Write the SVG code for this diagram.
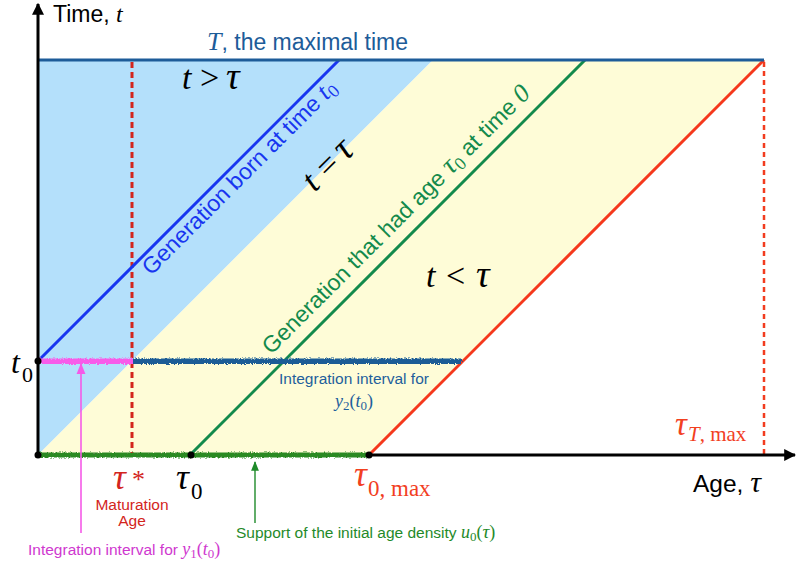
<svg xmlns="http://www.w3.org/2000/svg" width="796" height="568" viewBox="0 0 796 568">
<defs>
<style>
.sans{font-family:"Liberation Sans",Arial,Helvetica,sans-serif}
.math{font-family:"Liberation Serif","Times New Roman",serif;font-style:italic}
.rm{font-family:"Liberation Serif","Times New Roman",serif;font-style:normal}
.small{font-size:15.5px}
.big{font-size:23px}
.axis{stroke:#000;stroke-width:3;fill:none}
.dot{fill:#000}
</style>
<marker id="axhead" viewBox="0 0 10 10" refX="9" refY="5" markerWidth="4" markerHeight="4" orient="auto" markerUnits="strokeWidth">
<path d="M0,0 L10,5 L0,10 z" fill="#000"/>
</marker>
<marker id="pinkhead" viewBox="0 0 10 10" refX="9" refY="5" markerWidth="7" markerHeight="7" orient="auto" markerUnits="strokeWidth">
<path d="M0,1 L10,5 L0,9 z" fill="#f55ae8"/>
</marker>
<marker id="greenhead" viewBox="0 0 10 10" refX="9" refY="5" markerWidth="7" markerHeight="7" orient="auto" markerUnits="strokeWidth">
<path d="M0,1 L10,5 L0,9 z" fill="#1f8a2a"/>
</marker>
<filter id="rough" filterUnits="userSpaceOnUse" x="0" y="0" width="796" height="568">
<feTurbulence type="fractalNoise" baseFrequency="0.7" numOctaves="2" seed="3" result="n"/>
<feDisplacementMap in="SourceGraphic" in2="n" scale="3.5" xChannelSelector="R" yChannelSelector="G"/>
</filter>
</defs>

<g id="regions">
<polygon id="region-t-gt-tau" points="38,60 433,60 38,455" fill="#b4e0fb"/>
<polygon id="region-t-lt-tau" points="38,455 433,60 764,60 369,455" fill="#fefcd7"/>
</g>

<g id="guides">
<line id="tau-star-guide" x1="132" y1="62" x2="132" y2="455" stroke="#d3251d" stroke-width="3" stroke-dasharray="6,4"/>
<line id="tauT-guide" x1="764" y1="62" x2="764" y2="455" stroke="#f23c1f" stroke-width="2.5" stroke-dasharray="5,4"/>
</g>

<g id="characteristics">
<line id="gen-born-t0" x1="38" y1="361" x2="339" y2="60" stroke="#1836f0" stroke-width="3"/>
<line id="gen-age-tau0" x1="190" y1="455" x2="585" y2="60" stroke="#138a4c" stroke-width="3"/>
<line id="gen-tau0max" x1="369" y1="455" x2="764" y2="60" stroke="#f5381c" stroke-width="3"/>
<line id="T-line" x1="38" y1="60" x2="764" y2="60" stroke="#1d5c99" stroke-width="3"/>
</g>

<g id="intervals" filter="url(#rough)">
<rect id="y1-interval" x="39" y="358.5" width="94" height="5.5" fill="#f75ce9"/>
<rect id="y2-interval" x="133" y="358.5" width="329" height="5.5" fill="#1b5b96"/>
</g>

<g id="axes">
<line id="t-axis" class="axis" x1="38" y1="457" x2="38" y2="4" marker-end="url(#axhead)"/>
<line id="tau-axis" class="axis" x1="36" y1="455" x2="795" y2="455" marker-end="url(#axhead)"/>
</g>

<g id="support" filter="url(#rough)">
<rect id="u0-support" x="39" y="452.5" width="330" height="5" fill="#2a8a20"/>
</g>

<g id="points">
<circle class="dot" cx="38" cy="361" r="3.5"/>
<circle class="dot" cx="38" cy="455" r="3.5"/>
<circle class="dot" cx="191" cy="455" r="3.5"/>
<circle class="dot" cx="369" cy="455" r="3.5"/>
</g>

<g id="connectors">
<line id="arrow-y1" x1="81" y1="533" x2="81" y2="364" stroke="#f55ae8" stroke-width="1.6" marker-end="url(#pinkhead)"/>
<line id="arrow-u0" x1="255" y1="523" x2="255" y2="462" stroke="#1f8a2a" stroke-width="1.4" marker-end="url(#greenhead)"/>
</g>

<g id="axis-labels">
<text id="time-label" class="sans" x="53" y="22" font-size="23" fill="#000">Time, <tspan class="math" font-size="24">t</tspan></text>
<text id="age-label" class="sans" x="693" y="492" font-size="24.5" fill="#000">Age, <tspan class="math" font-size="30">τ</tspan></text>
<text id="T-label" class="sans big" x="207" y="50" fill="#1d5c99"><tspan class="math" font-size="26">T</tspan>, the maximal time</text>
</g>

<g id="relations" fill="#000">
<text class="rm" font-size="34" y="89"><tspan class="math" x="182">t</tspan><tspan x="200">&gt;</tspan><tspan class="math" font-size="38" x="226">τ</tspan></text>
<text class="rm" font-size="34" y="287"><tspan class="math" x="426">t</tspan><tspan x="446">&lt;</tspan><tspan class="math" font-size="38" x="476">τ</tspan></text>
<g transform="translate(329,166) rotate(-45)">
<text class="rm" font-size="34" y="9"><tspan class="math" x="-29">t</tspan><tspan x="-10">=</tspan><tspan class="math" font-size="38" x="15">τ</tspan></text>
</g>
</g>

<g id="generation-labels">
<g transform="translate(38,361) rotate(-45)">
<text class="sans big" x="140" y="20" fill="#1836f0">Generation born at time <tspan class="math" font-size="26">t</tspan><tspan class="rm" font-size="18" dy="4">0</tspan></text>
</g>
<g transform="translate(190,455) rotate(-45)">
<text class="sans big" x="128" y="-13" fill="#138a4c">Generation that had age <tspan class="math" font-size="28">τ</tspan><tspan class="rm" font-size="18" dy="4">0</tspan><tspan dy="-4"> at time </tspan><tspan class="math" font-size="26">0</tspan></text>
</g>
</g>

<g id="tick-labels">
<text id="t0-label" class="math" x="11" y="373" font-size="32" fill="#000">t<tspan class="rm" font-size="22" x="22" y="382">0</tspan></text>
<text id="tau-star" class="math" x="113" y="489" font-size="36" fill="#d3251d">τ<tspan class="rm" font-size="26" x="132" y="488">*</tspan></text>
<text class="sans small" x="132" y="510" text-anchor="middle" fill="#d3251d">Maturation</text>
<text class="sans small" x="132" y="526" text-anchor="middle" fill="#d3251d">Age</text>
<text id="tau0-label" class="math" x="176" y="489" font-size="36" fill="#000">τ<tspan class="rm" font-size="23" x="191" y="499">0</tspan></text>
<text id="tau0max-label" class="math" x="354" y="486" font-size="36" fill="#f2401f">τ<tspan class="rm" font-size="23" x="368" y="496">0, max</tspan></text>
<text id="tauTmax-label" class="math" x="675" y="435" font-size="33" fill="#f2401f">τ<tspan font-size="21" x="688" y="441">T</tspan><tspan class="rm" font-size="21">, max</tspan></text>
</g>

<g id="annotations">
<text class="sans small" x="279" y="384" fill="#1f5f9c">Integration interval for</text>
<text class="math" x="335" y="407" font-size="18" fill="#1f5f9c">y<tspan class="rm" font-size="13" dy="3">2</tspan><tspan class="rm" dy="-3">(</tspan>t<tspan class="rm" font-size="13" dy="3">0</tspan><tspan class="rm" dy="-3">)</tspan></text>
<text class="sans small" x="236" y="538" fill="#1f8a2a">Support of the initial age density <tspan class="math" font-size="18">u</tspan><tspan class="rm" font-size="13" dy="3">0</tspan><tspan class="rm" font-size="18" dy="-3">(</tspan><tspan class="math" font-size="19">τ</tspan><tspan class="rm" font-size="18">)</tspan></text>
<text class="sans small" x="28" y="555" fill="#cf38cf">Integration interval for <tspan class="math" font-size="18">y</tspan><tspan class="rm" font-size="13" dy="3">1</tspan><tspan class="rm" font-size="18" dy="-3">(</tspan><tspan class="math" font-size="18">t</tspan><tspan class="rm" font-size="13" dy="3">0</tspan><tspan class="rm" font-size="18" dy="-3">)</tspan></text>
</g>
</svg>
